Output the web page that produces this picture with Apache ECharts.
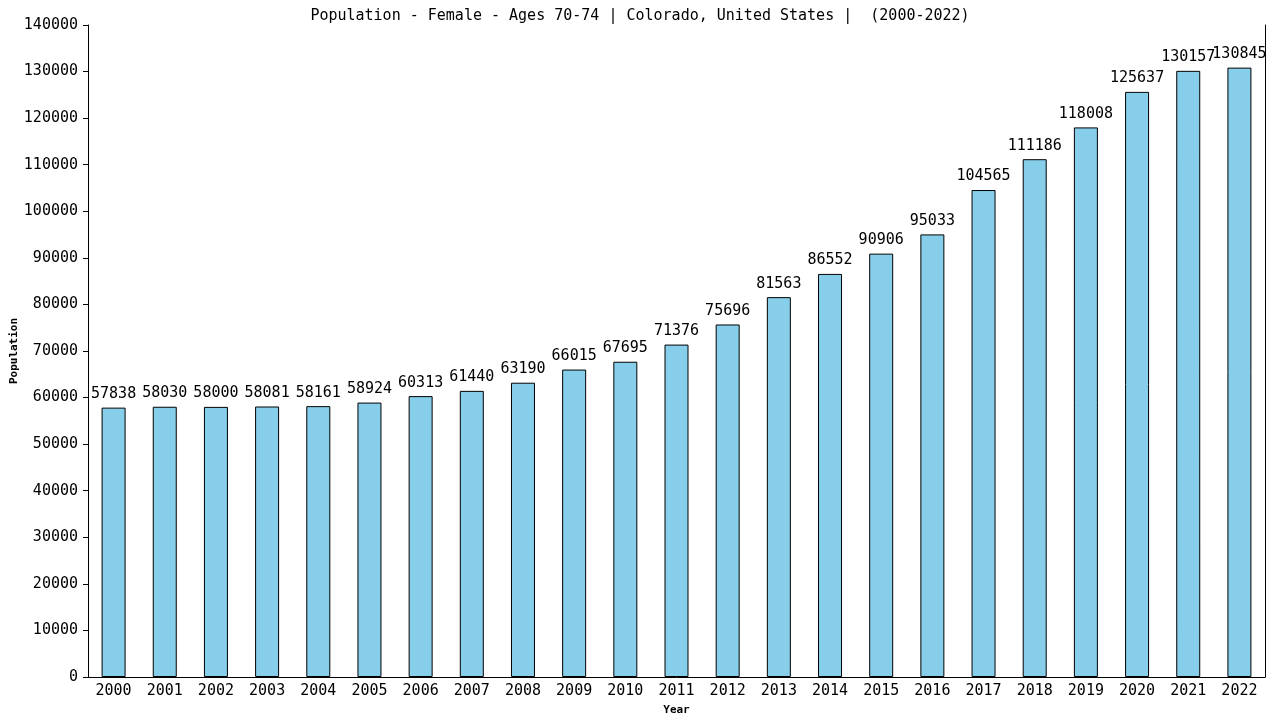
<!DOCTYPE html>
<html><head><meta charset="utf-8">
<script src="https://cdn.jsdelivr.net/npm/echarts@6/dist/echarts.min.js"></script>
<style>html,body{margin:0;padding:0;background:#fff}#c{width:1280px;height:720px}</style>
</head><body><div id="c"></div>
<script>
const years = ['2000','2001','2002','2003','2004','2005','2006','2007','2008','2009','2010','2011','2012','2013','2014','2015','2016','2017','2018','2019','2020','2021','2022'];
const population = [57838,58030,58000,58081,58161,58924,60313,61440,63190,66015,67695,71376,75696,81563,86552,90906,95033,104565,111186,118008,125637,130157,130845];
const titleText = 'Population - Female - Ages 70-74 | Colorado, United States |  (2000-2022)';
const font = 'DejaVu Sans Mono';
const chart = echarts.init(document.getElementById('c'));
chart.setOption({
  animation: false,
  backgroundColor: '#fff',
  title: { text: titleText, left: 'center', top: 4, textStyle: { fontFamily: font, fontSize: 15, fontWeight: 'normal', color: '#000' } },
  grid: { left: 88, right: 15, top: 25, bottom: 43, containLabel: false, outerBoundsMode: 'none' },
  xAxis: {
    type: 'category', data: years, name: 'Year', nameLocation: 'middle', nameGap: 28, nameMoveOverlap: false,
    nameTextStyle: { fontFamily: font, fontSize: 11, fontWeight: 'bold', color: '#000' },
    axisLine: { lineStyle: { color: '#000', width: 1 } },
    axisTick: { show: false },
    axisLabel: { fontFamily: font, fontSize: 15, color: '#000', margin: 7 }
  },
  yAxis: [{
    type: 'value', min: 0, max: 140000, interval: 10000, name: 'Population', nameLocation: 'middle', nameGap: 68, nameMoveOverlap: false,
    nameTextStyle: { fontFamily: font, fontSize: 11, fontWeight: 'bold', color: '#000' },
    axisLine: { show: true, lineStyle: { color: '#000', width: 1 } },
    axisTick: { show: true, length: 5, lineStyle: { color: '#000' } },
    axisLabel: { fontFamily: font, fontSize: 15, color: '#000', margin: 10, formatter: v => String(v) },
    splitLine: { show: false }
  }, {
    type: 'value', min: 0, max: 140000, interval: 10000, position: 'right',
    axisLine: { show: true, lineStyle: { color: '#000', width: 1 } },
    axisTick: { show: false }, axisLabel: { show: false }, splitLine: { show: false }
  }],
  series: [{
    type: 'bar', data: population, barWidth: 24,
    itemStyle: { color: '#87CEEB', borderColor: '#000', borderWidth: 1 },
    label: { show: true, position: 'top', distance: 6, fontFamily: font, fontSize: 15, color: '#000' }
  }]
});
</script></body></html>
